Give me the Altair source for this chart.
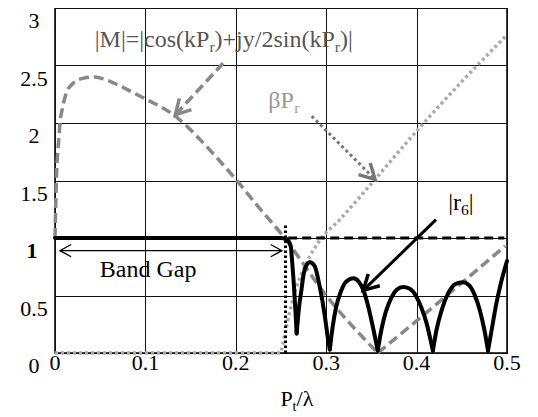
import math
import altair as alt
import pandas as pd

FONT = "Liberation Serif"
W, H = 452, 345
XMAX, YMAX = 0.5, 3.0

# ---------------- data ----------------
# |r6| (black solid), split in lobes so that the zeros stay cusps
r6_seg0_x = [0.0, 0.1, 0.2, 0.25, 0.254, 0.257, 0.259, 0.261, 0.262, 0.264, 0.2655, 0.2673]
r6_seg0_y = [1.0, 1.0, 1.0, 1.0, 0.995, 0.985, 0.965, 0.92, 0.83, 0.62, 0.43, 0.17]
r6_seg1_x = [0.2673, 0.27, 0.273, 0.2745, 0.278, 0.282, 0.287, 0.293, 0.2987, 0.302, 0.304]
r6_seg1_y = [0.17, 0.40, 0.57, 0.66, 0.76, 0.79, 0.76, 0.57, 0.31, 0.12, 0.03]
r6_seg2_x = [0.304, 0.307, 0.311, 0.316, 0.322, 0.33, 0.336, 0.341, 0.346, 0.351, 0.357]
r6_seg2_y = [0.03, 0.22, 0.40, 0.53, 0.62, 0.65, 0.62, 0.55, 0.42, 0.25, 0.02]
r6_seg3_x = [0.357, 0.361, 0.366, 0.372, 0.378, 0.385, 0.392, 0.399, 0.405, 0.411, 0.418]
r6_seg3_y = [0.02, 0.20, 0.36, 0.48, 0.55, 0.575, 0.56, 0.50, 0.40, 0.26, 0.02]
r6_seg4_x = [0.418, 0.422, 0.428, 0.435, 0.443, 0.451, 0.458, 0.464, 0.47, 0.475, 0.479]
r6_seg4_y = [0.02, 0.20, 0.38, 0.52, 0.60, 0.615, 0.59, 0.51, 0.37, 0.20, 0.02]
r6_seg5_x = [0.479, 0.483, 0.488, 0.493, 0.497, 0.5]
r6_seg5_y = [0.02, 0.20, 0.42, 0.60, 0.72, 0.80]

# |M| (gray dashed)
m_seg0_x = [0.0, 0.001, 0.002, 0.004, 0.0055, 0.008, 0.013, 0.018, 0.024, 0.032, 0.044,
            0.055, 0.07, 0.085, 0.1, 0.133, 0.16, 0.18, 0.2, 0.225, 0.252, 0.3, 0.357]
m_seg0_y = [1.0, 1.35, 1.6, 1.84, 2.0, 2.12, 2.27, 2.33, 2.37, 2.39, 2.40,
            2.38, 2.33, 2.27, 2.21, 2.06, 1.86, 1.69, 1.51, 1.27, 1.02, 0.5, 0.0]
m_seg1_x = [0.357, 0.4, 0.45, 0.498]
m_seg1_y = [0.0, 0.28, 0.61, 0.93]

# beta*P_r (light gray dotted)
b_x = [0.0, 0.249, 0.2544, 0.26, 0.267, 0.278, 0.293, 0.315, 0.354, 0.4, 0.45, 0.498]
b_y = [0.0, 0.0, 0.17, 0.37, 0.57, 0.78, 0.98, 1.16, 1.51, 1.93, 2.36, 2.75]

# reference lines
unity_x = [0.258, 0.497]
unity_y = [1.0, 1.0]
edge_x = [0.255]
edge_y0 = [0.0]
edge_y1 = [1.13]

x_ticks = [0, 0.1, 0.2, 0.3, 0.4, 0.5]
y_ticks = [0, 0.5, 1, 1.5, 2, 2.5, 3]
y_bold_tick = [1]

# annotations: arrows (start x, start y, tip x, tip y)
arrow_m = [0.186, 2.52, 0.133, 2.07]
arrow_b = [0.284, 2.06, 0.354, 1.51]
arrow_r = [0.4215, 1.16, 0.341, 0.545]
gap_arrow = [0.0055, 0.89, 0.251, 0.89]

label_m_pos = [0.044, 2.66]
label_b_pos = [0.236, 2.13]
label_r_pos = [0.435, 1.245]
label_gap_pos = [0.103, 0.66]
xtitle_pos = [0.268, -0.46]

# ---------------- helpers ----------------
xs = alt.Scale(domain=[0, XMAX], nice=False, zero=False)
ys = alt.Scale(domain=[0, YMAX], nice=False, zero=False)

xaxis = alt.Axis(values=x_ticks, title=None, grid=True, gridColor="#111", gridWidth=1,
                 domain=False, ticks=False, tickSize=0, labels=False)
yaxis = alt.Axis(values=y_ticks, title=None, grid=True, gridColor="#111", gridWidth=1,
                 domain=False, ticks=False, tickSize=0, labels=False)


def X(f="x"):
    return alt.X(f + ":Q", scale=xs, axis=xaxis)


def Y(f="y"):
    return alt.Y(f + ":Q", scale=ys, axis=yaxis)


def segs(pairs):
    rows = []
    for i, (xx, yy) in enumerate(pairs):
        for a, b in zip(xx, yy):
            rows.append({"x": a, "y": b, "s": i})
    return pd.DataFrame(rows)


layers = []

# beta P_r
layers.append(alt.Chart(pd.DataFrame({"x": b_x, "y": b_y})).mark_line(
    color="#aaaaaa", strokeWidth=3.5, strokeDash=[3, 3], interpolate="monotone"
).encode(x=X(), y=Y()))

# |M|
layers.append(alt.Chart(segs([(m_seg0_x, m_seg0_y), (m_seg1_x, m_seg1_y)])).mark_line(
    color="#888888", strokeWidth=3.5, strokeDash=[10, 5], interpolate="monotone"
).encode(x=X(), y=Y(), detail="s:N"))

# unity dashed line
layers.append(alt.Chart(pd.DataFrame({"x": unity_x, "y": unity_y})).mark_line(
    color="black", strokeWidth=3, strokeDash=[9, 5]
).encode(x=X(), y=Y()))

# band-edge dotted line
layers.append(alt.Chart(pd.DataFrame({"x": edge_x, "y": edge_y0, "y2": edge_y1})).mark_rule(
    color="black", strokeWidth=3, strokeDash=[2.5, 2.5]
).encode(x=X(), y=Y(), y2="y2:Q"))

# |r6|
layers.append(alt.Chart(segs([(r6_seg0_x, r6_seg0_y), (r6_seg1_x, r6_seg1_y),
                               (r6_seg2_x, r6_seg2_y), (r6_seg3_x, r6_seg3_y),
                               (r6_seg4_x, r6_seg4_y), (r6_seg5_x, r6_seg5_y)])).mark_line(
    color="black", strokeWidth=4, interpolate="monotone", strokeCap="round"
).encode(x=X(), y=Y(), detail="s:N"))

HEAD = "M -1 -0.55 L 0 0 L -1 0.55"


def head_angle(sx, sy, tx, ty):
    dxp = (tx - sx) * W / XMAX
    dyp = -(ty - sy) * H / YMAX
    return math.degrees(math.atan2(dyp, dxp)) % 360


def arrow(a, color, width, dash=None, head_w=None, head_size=700, both=False):
    sx, sy, tx, ty = a
    kw = dict(color=color, strokeWidth=width)
    if dash:
        kw["strokeDash"] = dash
    out = [alt.Chart(pd.DataFrame({"x": [sx], "y": [sy], "x2": [tx], "y2": [ty]})).mark_rule(
        **kw).encode(x=X(), y=Y(), x2="x2:Q", y2="y2:Q")]
    heads = [{"x": tx, "y": ty, "a": head_angle(sx, sy, tx, ty)}]
    if both:
        heads.append({"x": sx, "y": sy, "a": head_angle(tx, ty, sx, sy)})
    out.append(alt.Chart(pd.DataFrame(heads)).mark_point(
        shape=HEAD, filled=False, opacity=1, stroke=color,
        strokeWidth=head_w if head_w else width, size=head_size
    ).encode(x=X(), y=Y(), angle=alt.Angle("a:Q", scale=None)))
    return out


layers += arrow(arrow_m, "#888888", 3.5, dash=[10, 5], head_w=3.5, head_size=900)
layers += arrow(arrow_b, "#777777", 3, dash=[3, 3], head_w=3.5, head_size=900)
layers += arrow(arrow_r, "black", 3, head_w=3.5, head_size=900)
layers += arrow(gap_arrow, "black", 1.3, head_w=1.3, head_size=500, both=True)

# tick labels as serif text, placed through the scales
layers.append(alt.Chart(pd.DataFrame({"x": x_ticks})).mark_text(
    font=FONT, fontSize=22, color="black", align="center", baseline="top"
).encode(x=X(), y=alt.value(H), text=alt.Text("x:Q", format="~g")))
y_plain = [v for v in y_ticks if v not in y_bold_tick]
layers.append(alt.Chart(pd.DataFrame({"y": y_plain})).mark_text(
    font=FONT, fontSize=22, color="black", align="center", baseline="top", dy=3
).encode(y=Y(), x=alt.value(-21), text=alt.Text("y:Q", format="~g")))
layers.append(alt.Chart(pd.DataFrame({"y": y_bold_tick})).mark_text(
    font=FONT, fontSize=22, color="black", align="center", baseline="top", dy=3,
    fontWeight="bold"
).encode(y=Y(), x=alt.value(-23), text=alt.Text("y:Q", format="~g")))

# rich text (Times metrics, per 1000 em)
WID = {'|': 200, 'M': 889, '=': 564, 'c': 444, 'o': 500, 's': 389, '(': 333, 'k': 500,
       'P': 556, 'r': 333, ')': 333, '+': 564, 'j': 278, 'y': 500, '/': 278, '2': 500,
       'i': 278, 'n': 500, 'β': 520, '6': 500, 't': 278, 'λ': 520, 'B': 667, 'a': 444,
       'd': 500, ' ': 250, 'G': 722, 'p': 500}


def tw(s, fs):
    return sum(WID.get(ch, 500) for ch in s) / 1000 * fs


def rich(pieces, pos, size, color, align="left"):
    x, y = pos
    sub = size * 0.65
    total = sum(tw(t, sub if s else size) for t, s in pieces)
    off = -total / 2 if align == "center" else 0
    out = []
    for t, s in pieces:
        fs = sub if s else size
        out.append(alt.Chart(pd.DataFrame({"x": [x], "y": [y], "t": [t]})).mark_text(
            align="left", baseline="alphabetic", font=FONT, fontSize=fs, color=color,
            dx=off, dy=5 if s else 0
        ).encode(x=X(), y=Y(), text="t:N"))
        off += tw(t, fs)
    return out


layers += rich([("|M|=|cos(kP", False), ("r", True), (")+jy/2sin(kP", False),
                ("r", True), (")|", False)], label_m_pos, 24, "#555555")
layers += rich([("βP", False), ("r", True)], label_b_pos, 24, "#999999")
layers += rich([("|r", False), ("6", True), ("|", False)], label_r_pos, 24, "black")
layers += rich([("Band Gap", False)], label_gap_pos, 24, "black", align="center")
layers += rich([("P", False), ("t", True), ("/λ", False)], xtitle_pos, 22, "black",
               align="center")

chart = alt.layer(*layers).properties(
    width=W, height=H,
    padding={"left": 12, "top": 0, "right": 5, "bottom": 5},
    background="white",
).configure_view(stroke="black", strokeWidth=1.5)

chart.save("out.html", embed_options={"renderer": "svg", "actions": False})
